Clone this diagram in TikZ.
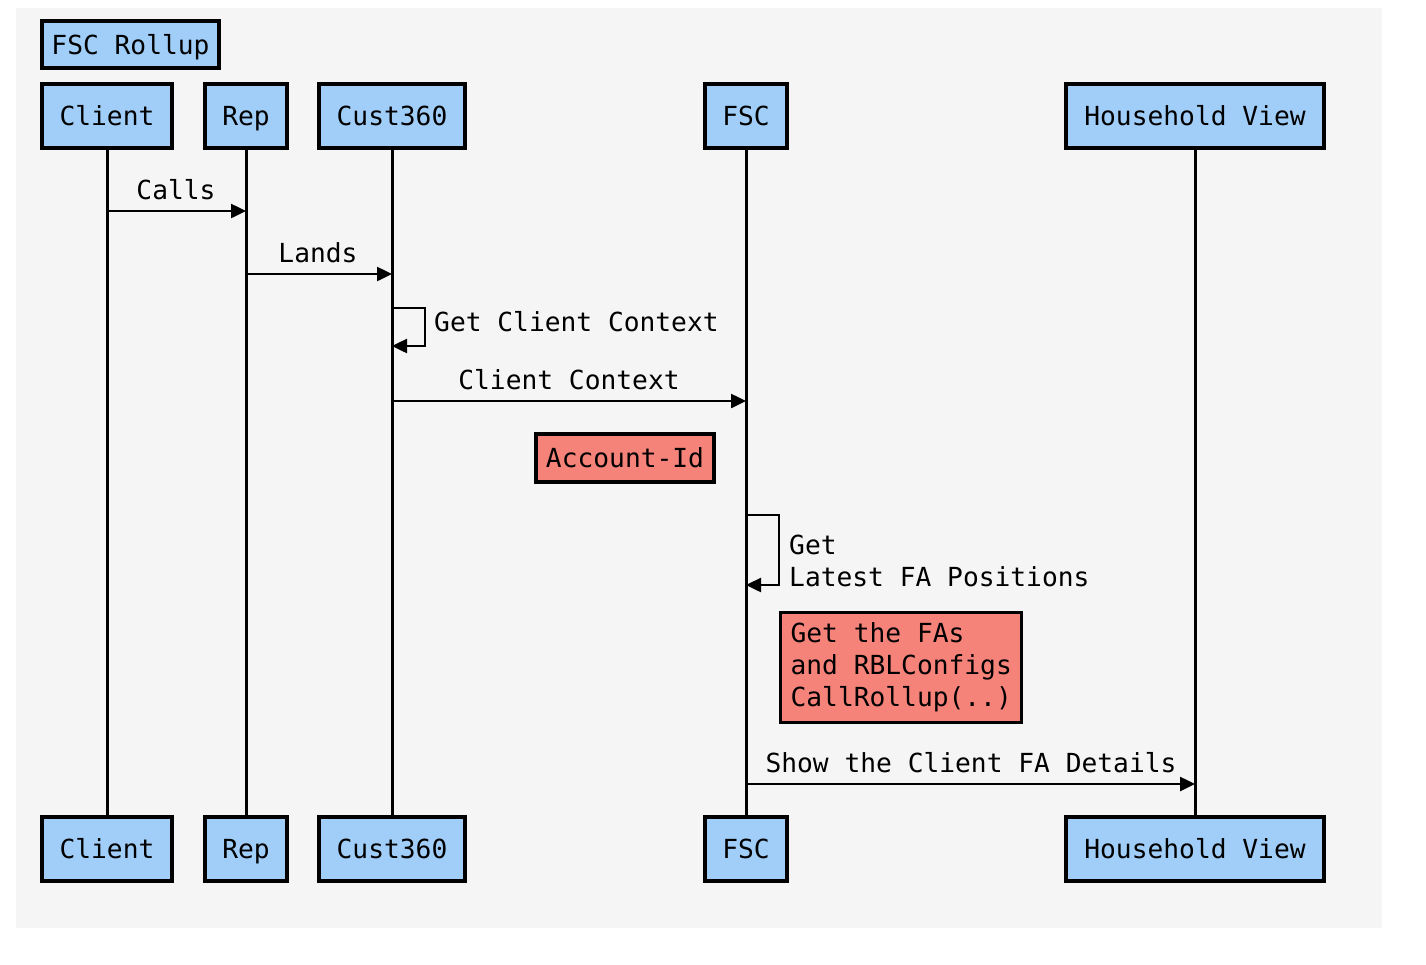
\documentclass[tikz,border=0pt]{standalone}
\usepackage{fontspec}
\newfontfamily\dmono{DejaVu Sans Mono}
\usetikzlibrary{arrows.meta}
\definecolor{bgray}{HTML}{F5F5F5}
\definecolor{partblue}{HTML}{A0CEF9}
\definecolor{notered}{HTML}{F6837A}
\tikzset{
  txt/.style={font=\dmono\fontsize{26.25}{32}\selectfont, inner sep=0pt},
  part/.style={txt, draw=black, line width=3.2pt, fill=partblue, minimum height=64pt, text height=19pt, text depth=0pt},
  note/.style={txt, draw=black, line width=3.2pt, fill=notered},
  lbl/.style={txt, text height=19pt, text depth=0pt},
  life/.style={line width=3pt, draw=black},
  msg/.style={line width=2.5pt, draw=black, -{Triangle[length=15pt,width=14pt]}},
}
\begin{document}
\begin{tikzpicture}[x=1pt,y=-1pt]
\useasboundingbox (0,0) rectangle (1426,964);
\fill[white] (0,0) rectangle (1426,964);
\fill[bgray] (16,8) rectangle (1382,928);

\node[part, minimum width=177pt, minimum height=47pt] (title) at (130.5,44.5) {FSC Rollup};

\node[part, minimum width=130pt] (t1) at (107,116) {Client};
\node[part, minimum width=82pt]  (t2) at (246,116) {Rep};
\node[part, minimum width=146pt] (t3) at (392,116) {Cust360};
\node[part, minimum width=82pt]  (t4) at (746,116) {FSC};
\node[part, minimum width=258pt] (t5) at (1195,116) {Household View};

\node[part, minimum width=130pt] (b1) at (107,849) {Client};
\node[part, minimum width=82pt]  (b2) at (246,849) {Rep};
\node[part, minimum width=146pt] (b3) at (392,849) {Cust360};
\node[part, minimum width=82pt]  (b4) at (746,849) {FSC};
\node[part, minimum width=258pt] (b5) at (1195,849) {Household View};

\foreach \i in {1,...,5} \draw[life] (t\i.south) -- (b\i.north);

% message points on lifelines
\coordinate (m1s) at (107,211); \coordinate (m1e) at (246,211);
\coordinate (m2s) at (246,274); \coordinate (m2e) at (392,274);
\coordinate (s1a) at (392,308); \coordinate (s1b) at (392,346);
\coordinate (m3s) at (392,401); \coordinate (m3e) at (746,401);
\coordinate (s2a) at (746,515); \coordinate (s2b) at (746,585);
\coordinate (m4s) at (746,784); \coordinate (m4e) at (1195,784);

\draw[msg] (m1s) -- (m1e);
\node[lbl] (l1) at (176,190) {Calls};
\draw[msg] (m2s) -- (m2e);
\node[lbl] (l2) at (318,253) {Lands};
\draw[msg] (s1a) -- ++(33,0) |- (s1b);
\node[lbl, anchor=west] (l3) at (434,322) {Get Client Context};
\draw[msg] (m3s) -- (m3e);
\node[lbl] (l4) at (569,380) {Client Context};

\node[note, minimum width=178pt, minimum height=48pt, text height=19pt, text depth=0pt] (n1) at (625,458) {Account-Id};

\draw[msg] (s2a) -- ++(33,0) |- (s2b);
\node[txt, anchor=west, align=left] (l5) at (789,561) {Get\\Latest FA Positions};

\node[note, anchor=north west, minimum width=241pt, minimum height=110pt, inner xsep=10pt, align=left] (n2) at (779,611) {Get the FAs\\and RBLConfigs\\CallRollup(..)};

\draw[msg] (m4s) -- (m4e);
\node[lbl] (l6) at (971,763) {Show the Client FA Details};
\end{tikzpicture}
\end{document}
